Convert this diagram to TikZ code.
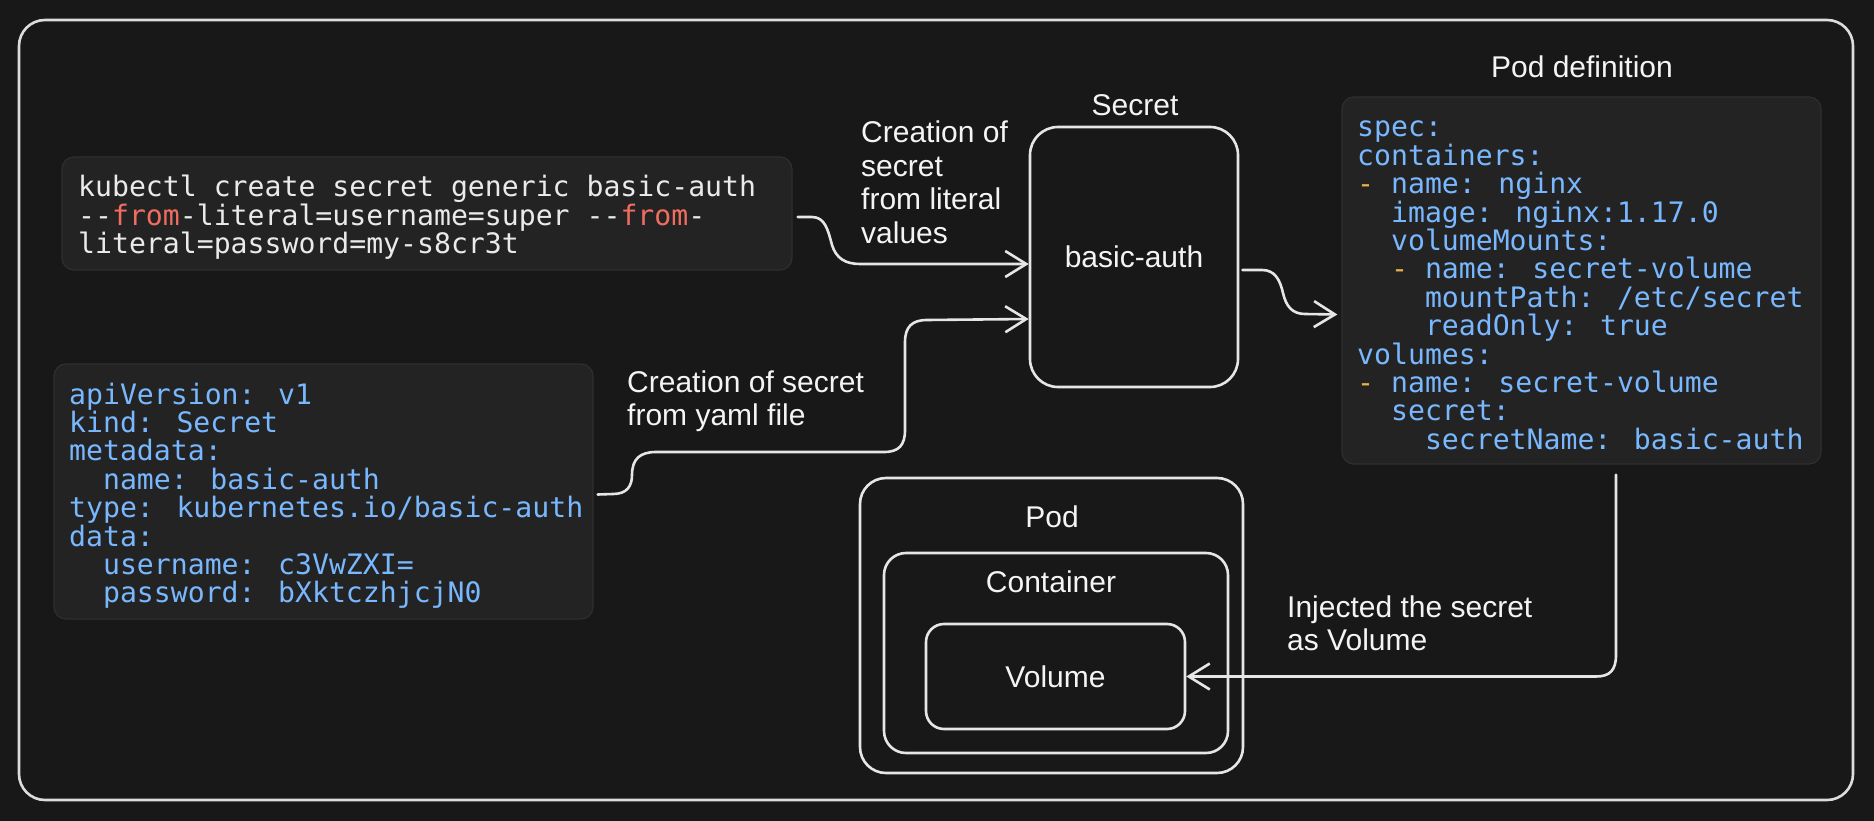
\documentclass[tikz,border=0pt]{standalone}
\usepackage{fontspec}
\setmainfont{Liberation Sans}
\newfontfamily\codefont{DejaVu Sans Mono}
\usetikzlibrary{arrows.meta,calc}
\definecolor{bg}{HTML}{181818}
\definecolor{codebg}{HTML}{232323}
\definecolor{codeborder}{HTML}{2F2F2F}
\definecolor{linec}{HTML}{E6E6E6}
\definecolor{framec}{HTML}{DCDCDC}
\definecolor{txt}{HTML}{F4F4F4}
\definecolor{codewhite}{HTML}{EAEAEA}
\definecolor{codeblue}{HTML}{79B8FF}
\definecolor{codered}{HTML}{F26D60}
\definecolor{codeorange}{HTML}{E8B24A}
\begin{document}
\begin{tikzpicture}[x=1pt,y=-1pt,
  sbox/.style={draw=linec,line width=2.6pt,inner sep=0pt,rounded corners=#1},
  sbox/.default=24pt,
  codebox/.style={fill=codebg,draw=codeborder,line width=1.2pt,rounded corners=12pt,inner sep=0pt},
  codetext/.style={anchor=base west,inner sep=0pt,font=\codefont\fontsize{28.15}{28.4}\selectfont},
  lbl/.style={text=txt,inner sep=0pt,font=\fontsize{30}{33.5}\selectfont},
  conn/.style={draw=linec,line width=2.6pt,line cap=round,line join=round,-{Straight Barb[length=21pt,width=26pt]}}]
\useasboundingbox (0,0) rectangle (1874,821);
\fill[bg] (0,0) rectangle (1874,821);
\draw[framec,line width=2.6pt,rounded corners=26pt] (19,20) rectangle (1853,800);

% code boxes
\node[codebox,minimum width=730pt,minimum height=113pt] (kub) at (427,213.5) {};
\node[codebox,minimum width=539pt,minimum height=255pt] (yaml) at (323.5,491.5) {};
\node[codebox,minimum width=479pt,minimum height=367pt] (pdef) at (1581.5,280.5) {};

\node[codetext,text=codewhite] (kubtxt) at (78,197) {\vtop{%
\hbox{kubectl create secret generic basic-auth}%
\hbox{--\textcolor{codered}{from}-literal=username=super --\textcolor{codered}{from}-}%
\hbox{literal=password=my-s8cr3t}}};

\node[codetext,text=codeblue] (yamltxt) at (69,404) {\vtop{%
\hbox{apiVersion: v1}%
\hbox{kind: Secret}%
\hbox{metadata:}%
\hbox{\ \ name: basic-auth}%
\hbox{type: kubernetes.io/basic-auth}%
\hbox{data:}%
\hbox{\ \ username: c3VwZXI=}%
\hbox{\ \ password: bXktczhjcjN0}}};

\node[codetext,text=codeblue] (pdeftxt) at (1357,137) {\vtop{%
\hbox{spec:}%
\hbox{containers:}%
\hbox{\textcolor{codeorange}{-} name: nginx}%
\hbox{\ \ image: nginx:1.17.0}%
\hbox{\ \ volumeMounts:}%
\hbox{\ \ \textcolor{codeorange}{-} name: secret-volume}%
\hbox{\ \ \ \ mountPath: /etc/secret}%
\hbox{\ \ \ \ readOnly: true}%
\hbox{volumes:}%
\hbox{\textcolor{codeorange}{-} name: secret-volume}%
\hbox{\ \ secret:}%
\hbox{\ \ \ \ secretName: basic-auth}}};

% secret
\node[sbox=28pt,minimum width=208pt,minimum height=260pt,lbl] (sec) at (1134,257) {basic-auth};
\node[lbl,anchor=base] (sectitle) at (1135,116) {Secret};
\node[lbl,anchor=base] (pdeftitle) at (1582,78) {Pod definition};

% pod
\node[sbox=26pt,minimum width=383pt,minimum height=295pt] (pod) at (1051.5,625.5) {};
\node[sbox=22pt,minimum width=344pt,minimum height=200pt] (cont) at (1056,653) {};
\node[sbox=18pt,minimum width=259pt,minimum height=105pt,lbl] (vol) at (1055.5,676.5) {Volume};
\node[lbl,anchor=base] (podtitle) at (1052,527) {Pod};
\node[lbl,anchor=base] (conttitle) at (1051,592) {Container};

% labels
\node[lbl,anchor=base west] (l1) at (861,143) {\vtop{\hbox{Creation of}\hbox{secret}\hbox{from literal}\hbox{values}}};
\node[lbl,anchor=base west] (l2) at (627,392) {\vtop{\hbox{Creation of secret}\hbox{from yaml file}}};
\node[lbl,anchor=base west] (l3) at (1287,617) {\vtop{\hbox{Injected the secret}\hbox{as Volume}}};

% connectors
\draw[conn] ($(kub.east)+(5,3.5)$) -- (812,217) .. controls (825,217) and (828,230) .. (832,245)
  .. controls (836,258) and (845,264) .. (860,264) -- ($(sec.west)+(0,7)$);
\draw[conn] ($(yaml.east)+(4,3)$) -- (613,494) .. controls (627,494) and (632,486) .. (632,475)
  .. controls (632,459) and (640,452) .. (656,452) -- (884,452)
  .. controls (899,452) and (905,445) .. (905,430) -- (905,342)
  .. controls (905,327) and (912,320) .. (927,320) -- ($(sec.west)+(0,62)$);
\draw[conn] ($(sec.east)+(3,13)$) -- (1262,270) .. controls (1275,270) and (1280,280) .. (1283,293)
  .. controls (1286,306) and (1292,314) .. (1305,314) -- ($(pdef.west)+(-4,34)$);
\draw[conn] ($(pdef.south)+(34.5,10)$) -- (1616,655) .. controls (1616,670) and (1610,676.5) .. (1596,676.5) -- (vol.east);
\end{tikzpicture}
\end{document}
